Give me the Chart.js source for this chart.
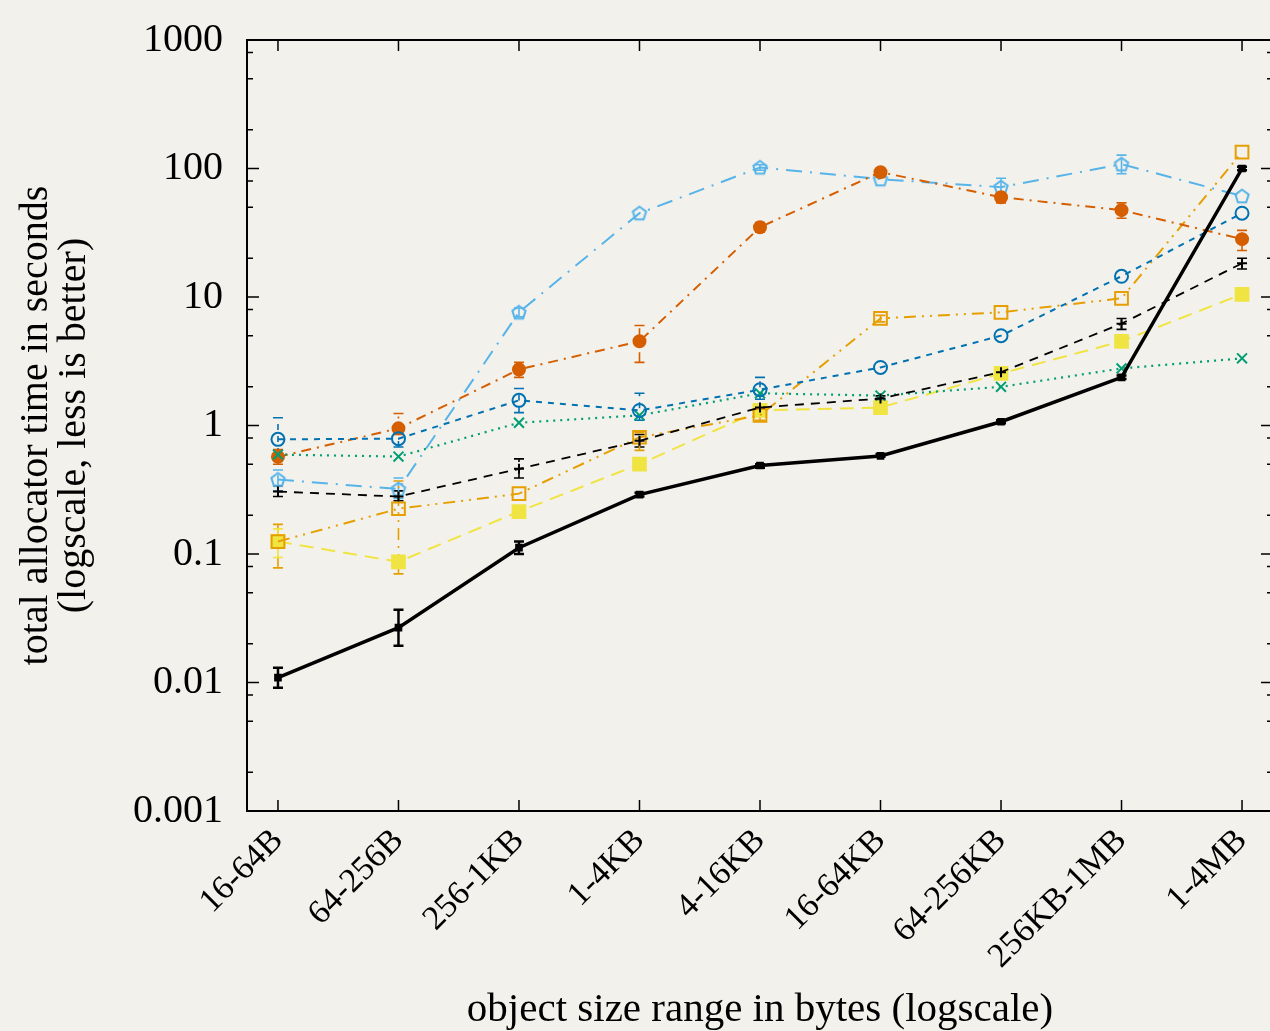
<!DOCTYPE html>
<html>
<head>
<meta charset="utf-8">
<script src="https://cdn.jsdelivr.net/npm/chart.js@4.4.1/dist/chart.umd.min.js"></script>
<style>
  html, body { margin: 0; padding: 0; overflow: hidden; background: #f3f1ec; }
  #wrap { width: 1284px; height: 1031px; }
</style>
</head>
<body>
<div id="wrap"><canvas id="myChart"></canvas></div>
<script>
// categories and tick labels
const categories = ['16-64B', '64-256B', '256-1KB', '1-4KB', '4-16KB', '16-64KB', '64-256KB', '256KB-1MB', '1-4MB'];
const yDecades = [0.001, 0.01, 0.1, 1, 10, 100, 1000];
const yTickLabels = ['0.001', '0.01', '0.1', '1', '10', '100', '1000'];
const yMinorSteps = [2, 5, 8];

// series values (seconds)
const blackSolid  = [0.0109, 0.0267, 0.112, 0.29, 0.488, 0.58, 1.07, 2.37, 100];
const blackDashed = [0.306, 0.28, 0.46, 0.76, 1.38, 1.62, 2.6, 6.2, 18.3];
const blueDashed  = [0.78, 0.79, 1.57, 1.31, 1.9, 2.83, 5.0, 14.5, 44.9];
const greenDotted = [0.594, 0.573, 1.05, 1.2, 1.78, 1.71, 2.0, 2.78, 3.33];
const redDashDot  = [0.57, 0.95, 2.73, 4.52, 34.9, 93.7, 59.8, 47.4, 28.2];
const skyDashDot  = [0.38, 0.32, 7.6, 44.9, 102, 82.6, 71.6, 108, 61];
const orangeDDot  = [0.125, 0.225, 0.295, 0.81, 1.2, 6.82, 7.6, 9.77, 134];
const yellowDash  = [0.125, 0.087, 0.214, 0.5, 1.31, 1.38, 2.54, 4.52, 10.5];

// error ranges [low, high], null where none is visible
const blackSolidErr  = [[0.0091, 0.013], [0.0193, 0.0368], [0.1, 0.125], [0.28, 0.30], [0.47, 0.5], [0.57, 0.6], [1.04, 1.1], [2.3, 2.45], [97, 103]];
const blackDashedErr = [[0.28, 0.34], [0.26, 0.31], [0.39, 0.55], [0.68, 0.85], [1.3, 1.45], [1.55, 1.7], [2.5, 2.75], [5.6, 6.8], [16.5, 20]];
const blueDashedErr  = [[0.6, 1.15], [0.68, 0.92], [1.26, 1.94], [1.1, 1.78], [1.6, 2.37], null, null, null, null];
const greenDottedErr = [null, null, null, null, null, null, null, null, null];
const redDashDotErr  = [[0.5, 0.65], [0.85, 1.24], [2.37, 3.1], [3.1, 6.0], [32, 38], [85, 100], [54, 65], [41, 54], [23, 33]];
const skyDashDotErr  = [[0.31, 0.45], [0.27, 0.39], [7.0, 8.2], null, [97, 107], null, [62, 84], [91, 127], null];
const orangeDDotErr  = [[0.078, 0.17], [0.07, 0.37], null, [0.64, 0.88], [1.1, 1.35], [6.4, 7.2], null, null, null];
const yellowDashErr  = [[0.094, 0.157], null, null, null, null, [1.25, 1.5], null, null, null];

const FONT = "'Liberation Serif', 'DejaVu Serif', serif";

function pentagon(color) {
  const c = document.createElement('canvas');
  c.width = 18; c.height = 18;
  const g = c.getContext('2d');
  g.strokeStyle = color; g.lineWidth = 2;
  g.beginPath();
  for (let i = 0; i < 5; i++) {
    const a = -Math.PI / 2 + i * 2 * Math.PI / 5;
    const px = 9 + 7 * Math.cos(a), py = 9.5 + 7 * Math.sin(a);
    if (i === 0) g.moveTo(px, py); else g.lineTo(px, py);
  }
  g.closePath(); g.stroke();
  return c;
}

function pts(arr) { return arr.map((v, i) => ({ x: i, y: v })); }

function series(data, errs, color, dash, width, style, radius, filled) {
  return {
    data: pts(data),
    errs: errs,
    borderColor: color,
    backgroundColor: filled ? color : 'rgba(0,0,0,0)',
    borderWidth: width,
    borderDash: dash,
    pointStyle: style,
    pointRadius: radius,
    pointBorderWidth: 2,
    pointBorderColor: color,
    pointBackgroundColor: filled ? color : 'rgba(0,0,0,0)',
    tension: 0,
    fill: false
  };
}

const datasets = [
  series(blackSolid, blackSolidErr, '#000000', [], 3.5, 'rect', 4, true),
  series(blackDashed, blackDashedErr, '#000000', [9, 7], 1.8, 'cross', 5, false),
  series(blueDashed, blueDashedErr, '#0072b2', [6, 6], 2, 'circle', 6.5, false),
  series(greenDotted, greenDottedErr, '#009e73', [2, 5], 2.2, 'crossRot', 7, false),
  series(redDashDot, redDashDotErr, '#d55e00', [10, 6, 2, 6], 2, 'circle', 6, true),
  series(skyDashDot, skyDashDotErr, '#56b4e9', [16, 8, 2, 8], 2, pentagon('#56b4e9'), 7, false),
  series(orangeDDot, orangeDDotErr, '#e69f00', [12, 6, 2, 6, 2, 6], 2, 'rect', 9, false),
  series(yellowDash, yellowDashErr, '#f0e442', [14, 8], 2, 'rect', 9, true)
];

// error bars drawn through the chart scales
const errorBars = {
  id: 'errorBars',
  beforeDatasetsDraw(chart) {
    const { ctx, scales: { x, y } } = chart;
    ctx.save();
    chart.data.datasets.forEach(ds => {
      ctx.strokeStyle = ds.borderColor;
      ctx.lineWidth = ds.borderWidth > 2 ? 2.5 : 1.6;
      ds.errs.forEach((e, i) => {
        if (!e) return;
        const px = x.getPixelForValue(i);
        const lo = y.getPixelForValue(e[0]);
        const hi = y.getPixelForValue(e[1]);
        ctx.setLineDash(ds.borderDash);
        ctx.beginPath(); ctx.moveTo(px, lo); ctx.lineTo(px, hi); ctx.stroke();
        ctx.setLineDash([]);
        ctx.beginPath();
        ctx.moveTo(px - 5, lo); ctx.lineTo(px + 5, lo);
        ctx.moveTo(px - 5, hi); ctx.lineTo(px + 5, hi);
        ctx.stroke();
      });
    });
    ctx.restore();
  }
};

// frame with inward ticks, gnuplot style
const frame = {
  id: 'frame',
  afterDraw(chart) {
    const { ctx, chartArea: a, scales: { x, y } } = chart;
    ctx.save();
    ctx.strokeStyle = '#000';
    ctx.lineWidth = 2;
    ctx.strokeRect(a.left, a.top, a.right - a.left, a.bottom - a.top);
    ctx.lineWidth = 1.5;
    ctx.beginPath();
    categories.forEach((c, i) => {
      const px = x.getPixelForValue(i);
      ctx.moveTo(px, a.bottom); ctx.lineTo(px, a.bottom - 11);
      ctx.moveTo(px, a.top); ctx.lineTo(px, a.top + 11);
    });
    y.ticks.forEach(t => {
      const py = y.getPixelForValue(t.value);
      const len = t.major ? 12 : 6;
      ctx.moveTo(a.left, py); ctx.lineTo(a.left + len, py);
      ctx.moveTo(a.right, py); ctx.lineTo(a.right - len, py);
    });
    ctx.stroke();
    ctx.restore();
  }
};

new Chart(document.getElementById('myChart'), {
  type: 'line',
  data: { datasets },
  options: {
    responsive: true,
    maintainAspectRatio: false,
    animation: false,
    layout: { padding: { top: 33, right: 7, left: 0, bottom: 0 } },
    plugins: { legend: { display: false }, tooltip: { enabled: false } },
    scales: {
      x: {
        type: 'linear',
        min: -0.257,
        max: 8.257,
        grid: { display: false },
        border: { display: false },
        afterBuildTicks(s) { s.ticks = categories.map((c, i) => ({ value: i })); },
        afterFit(s) { s.height = 220; },
        ticks: {
          autoSkip: false,
          minRotation: 45,
          maxRotation: 45,
          padding: 2,
          color: '#000',
          font: { family: FONT, size: 34 },
          callback: v => categories[v]
        },
        title: {
          display: true,
          text: 'object size range in bytes (logscale)',
          color: '#000',
          font: { family: FONT, size: 41, lineHeight: 1.0 },
          padding: { top: 0, bottom: 0 }
        }
      },
      y: {
        type: 'logarithmic',
        min: 0.001,
        max: 1000,
        grid: { display: false },
        border: { display: false },
        afterBuildTicks(s) {
          const t = [];
          yDecades.forEach((d, i) => {
            t.push({ value: d, major: true, label: yTickLabels[i] });
            if (i < yDecades.length - 1) yMinorSteps.forEach(m => t.push({ value: d * m, major: false }));
          });
          s.ticks = t;
        },
        afterFit(s) { s.width = 247; },
        ticks: {
          autoSkip: false,
          padding: 16,
          color: '#000',
          font: { family: FONT, size: 40 },
          callback(v) {
            const i = yDecades.findIndex(d => Math.abs(d - v) / d < 1e-6);
            return i >= 0 ? yTickLabels[i] : '';
          }
        },
        title: {
          display: true,
          text: ['total allocator time in seconds', '(logscale, less is better)'],
          color: '#000',
          font: { family: FONT, size: 40, lineHeight: 0.95 },
          padding: { top: 17, bottom: 0 }
        }
      }
    }
  },
  plugins: [errorBars, frame]
});
</script>
</body>
</html>
